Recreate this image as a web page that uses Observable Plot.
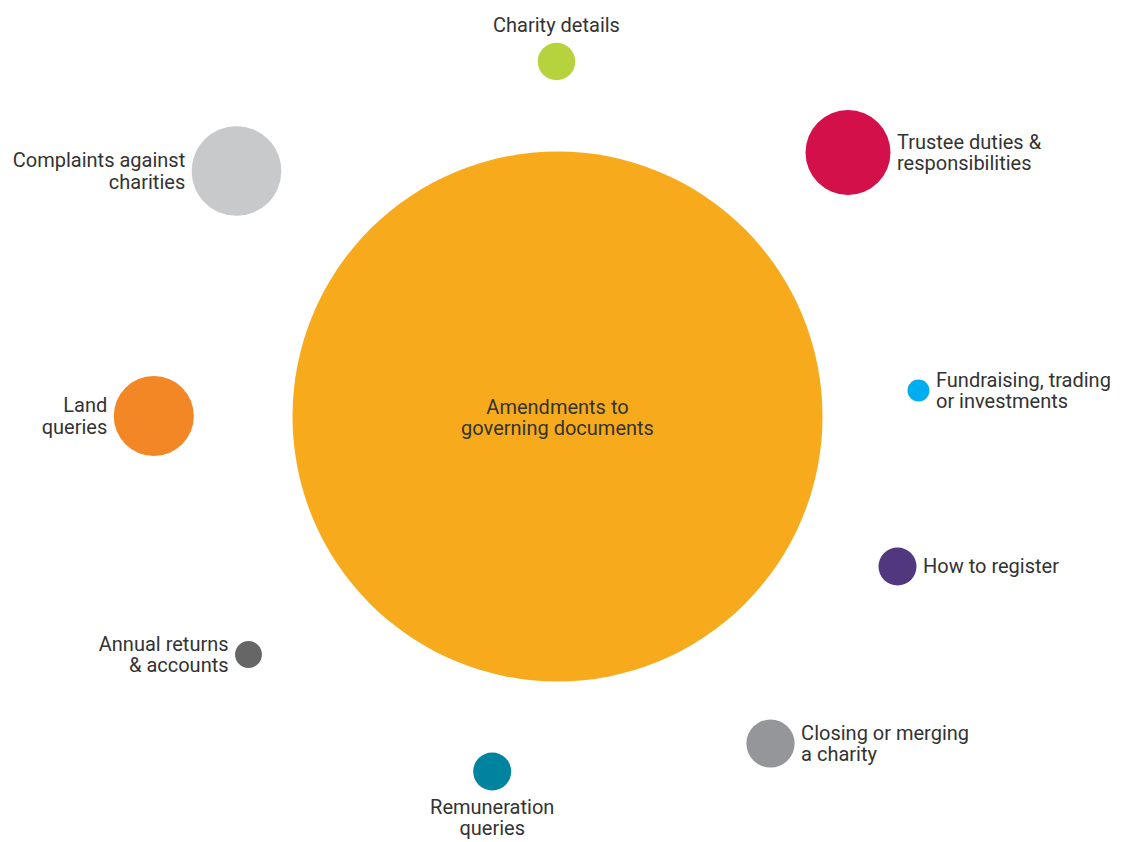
<!DOCTYPE html>
<html>
<head>
<meta charset="utf-8">
<script src="https://cdn.jsdelivr.net/npm/d3@7"></script>
<script src="https://cdn.jsdelivr.net/npm/@observablehq/plot@0.6"></script>
<style>
  html, body { margin: 0; padding: 0; background: #ffffff; }
  #chart svg { display: block; }
</style>
</head>
<body>
<div id="chart"></div>
<script>
// Categories (labels, with line breaks as in the original)
const categories = [
  "Amendments to\ngoverning documents",
  "Charity details",
  "Trustee duties &\nresponsibilities",
  "Complaints against\ncharities",
  "Land\nqueries",
  "Fundraising, trading\nor investments",
  "How to register",
  "Annual returns\n& accounts",
  "Remuneration\nqueries",
  "Closing or merging\na charity"
];
// Relative bubble sizes (area-proportional, estimated)
const values = [700, 3.5, 18, 20, 16, 1.2, 3.6, 1.8, 3.6, 5.8];
// Layout coordinates in abstract units (centre bubble at 0,0)
const layoutX = [0, -0.01, 2.905, -3.21, -4.037, 3.61, 3.40, -3.09, -0.653, 2.13];
const layoutY = [0, 3.55, 2.64, 2.455, 0.005, 0.26, -1.50, -2.38, -3.55, -3.27];
// Palette
const colors = ["#F8AA1D", "#B6D33E", "#D4104B", "#C8C9CB", "#F38625", "#00AEEF", "#51377D", "#666666", "#00839F", "#959699"];

const data = categories.map((label, i) => ({
  label, value: values[i], x: layoutX[i], y: layoutY[i], color: colors[i]
}));

const W = 1123, H = 842;
const xDomain = [-5.57, 5.66], yDomain = [-4.26, 4.16];
const rOpts = {type: "sqrt", domain: [0, 700], range: [0, 265]};
const rScale = Plot.scale({r: rOpts});
const xScale = Plot.scale({x: {domain: xDomain, range: [0, W]}});
const unitPx = (xScale.apply(1) - xScale.apply(0));
const gap = 6.5;

function side(d) {
  if (d.x === 0 && d.y === 0) return "center";
  if (Math.abs(d.x) < 1) return d.y > 0 ? "top" : "bottom";
  return d.x > 0 ? "right" : "left";
}
const offset = d => (rScale.apply(d.value) + gap) / unitPx;

const common = {text: "label", fontSize: 20, lineHeight: 1.07, fill: "#333333", fontFamily: "Roboto, sans-serif"};

const chart = Plot.plot({
  width: W, height: H, margin: 0,
  x: {domain: xDomain, axis: null},
  y: {domain: yDomain, axis: null},
  r: rOpts,
  color: {type: "identity"},
  marks: [
    Plot.dot(data, {x: "x", y: "y", r: "value", fill: "color"}),
    Plot.text(data.filter(d => side(d) === "center"), {...common, x: "x", y: "y", textAnchor: "middle", dy: 1}),
    Plot.text(data.filter(d => side(d) === "right"), {...common, x: d => d.x + offset(d), y: "y", textAnchor: "start"}),
    Plot.text(data.filter(d => side(d) === "left"), {...common, x: d => d.x - offset(d), y: "y", textAnchor: "end"}),
    Plot.text(data.filter(d => side(d) === "top"), {...common, x: "x", y: d => d.y + (rScale.apply(d.value) + 11) / unitPx, textAnchor: "middle", lineAnchor: "bottom"}),
    Plot.text(data.filter(d => side(d) === "bottom"), {...common, x: "x", y: d => d.y - (rScale.apply(d.value) + 8) / unitPx, textAnchor: "middle", lineAnchor: "top"})
  ]
});
document.getElementById("chart").appendChild(chart);
</script>
</body>
</html>
